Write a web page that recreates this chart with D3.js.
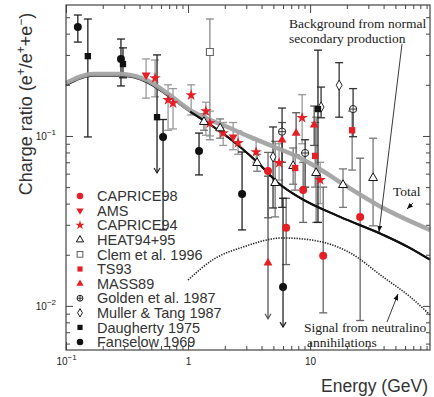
<!DOCTYPE html>
<html><head><meta charset="utf-8">
<script src="https://cdn.jsdelivr.net/npm/d3@7"></script>
<style>body{margin:0;background:#fff}svg{display:block}</style>
</head><body><svg id="c" width="434" height="397"></svg>
<script>
// ---------- data ----------
// points: [energy GeV, ratio, lowErr, highErr, arrowDown(1/0)]
const caprice98 = [[4.52,0.0622,0.033,0.08,0],[6.36,0.0288,0.0175,0.043,0],[8.77,0.0481,0.031,0.07,0],[12.8,0.0197,0.0091,0.05,0],[25.7,0.0334,0.0082,0.074,0]];
const ams = [[0.453,0.228,0.167,0.284,0],[2.34,0.0987,0.083,0.12,0]];
const caprice94 = [[0.537,0.219,0.17,0.28,0],[0.686,0.163,0.108,0.2,0],[0.753,0.156,0.11,0.19,0],[1.06,0.174,0.133,0.2,0],[1.40,0.140,0.101,0.158,0],[1.51,0.119,0.1,0.14,0],[1.94,0.104,0.088,0.12,0],[2.57,0.091,0.078,0.107,0],[3.61,0.0805,0.07,0.095,0],[5.57,0.0694,0.055,0.09,0],[8.60,0.128,0.09,0.175,0],[12.1,0.0551,0.04,0.07,0]];
const heat9495 = [[1.35,0.121,0.108,0.135,0],[1.83,0.111,0.097,0.126,0],[3.68,0.0694,0.062,0.078,0],[5.17,0.0529,0.0334,0.093,0],[7.26,0.0666,0.052,0.085,0],[11.2,0.0606,0.031,0.129,0],[18.6,0.0515,0.038,0.064,0],[32.8,0.0566,0.0296,0.097,0]];
const clem1996 = [[1.51,0.312,0.095,0.488,0]];
const ts93 = [[7.54,0.0648,0.048,0.077,0],[11.0,0.0763,0.05,0.12,0],[22.1,0.108,0.063,0.14,0]];
const mass89 = [[4.52,0.0179,0.0084,0.058,1],[5.89,0.0947,0.07,0.12,0],[7.68,0.104,0.077,0.137,0],[10.8,0.116,0.088,0.15,0]];
const golden1987 = [[5.89,0.106,0.038,0.146,0],[9.1,0.0794,0.05,0.095,0],[22.5,0.144,0.099,0.19,0]];
const muller1987 = [[4.97,0.0753,0.0377,0.113,0],[12.3,0.148,0.128,0.194,0],[17.3,0.199,0.129,0.27,0]];
const daugherty1975 = [[0.151,0.295,0.0987,0.488,0],[0.293,0.265,0.22,0.33,0],[0.557,0.129,0.0606,0.30,1],[11.6,0.144,0.031,0.32,0]];
const fanselow1969 = [[0.125,0.438,0.357,0.515,0],[0.282,0.284,0.197,0.372,0],[0.624,0.0987,0.028,0.125,0],[1.23,0.0816,0.059,0.104,0],[2.77,0.0456,0.028,0.0805,0],[6.0,0.0129,0.0075,0.043,1]];

// curves
const curveE      = [0.1,0.166,0.277,0.461,0.673,1.04,1.38,2.01,3.22,4.88,8.28,11.6,18.6,39.6,96];
const totalRatio  = [0.205,0.232,0.232,0.213,0.179,0.142,0.128,0.1145,0.0987,0.0873,0.0742,0.0648,0.0522,0.0377,0.028];
const bgE         = [0.1,0.166,0.277,0.461,0.673,1.04,1.38,2.01,3.75,5.47,8.28,17.6,39.6,66,96];
const bgRatio     = [0.199,0.226,0.226,0.207,0.174,0.139,0.122,0.1014,0.0694,0.0529,0.0432,0.0334,0.0262,0.0219,0.0187];
const sigE        = [1.0,1.6,2.82,6.0,10,21.3,39.6,66,96];
const sigRatio    = [0.0142,0.0187,0.0222,0.0251,0.0245,0.0205,0.0148,0.0113,0.00885];

const legendNames = ["CAPRICE98","AMS","CAPRICE94","HEAT94+95","Clem et al. 1996","TS93","MASS89","Golden et al. 1987","Muller & Tang 1987","Daugherty 1975","Fanselow 1969"];
const xMajor = [0.1,1,10];
const xMinor = [0.2,0.3,0.4,0.5,0.6,0.7,0.8,0.9,2,3,4,5,6,7,8,9,20,30,40,50,60,70,80,90];
const yMajor = [0.01,0.1];
const yMinor = [0.006,0.007,0.008,0.009,0.02,0.03,0.04,0.05,0.06,0.07,0.08,0.09,0.2,0.3,0.4,0.5];

// ---------- chart ----------
const RED = "#e41f26";
const svg = d3.select("#c");
const L=66,R=430,T=5,B=350;
const x = d3.scaleLog().domain([0.1,96]).range([L,R]);
const y = d3.scaleLog().domain([0.0055,0.59]).range([B,T]);

const series = [
  {name:"CAPRICE98", data:caprice98, sym:"circle", fill:RED, stroke:"none", err:"#666"},
  {name:"AMS", data:ams, sym:"tdown", fill:RED, stroke:"none", err:"#999"},
  {name:"CAPRICE94", data:caprice94, sym:"star", fill:RED, stroke:"none", err:"#999"},
  {name:"HEAT94+95", data:heat9495, sym:"triangle", fill:"#fff", stroke:"#111", err:"#777"},
  {name:"Clem", data:clem1996, sym:"square", fill:"#fff", stroke:"#666", err:"#888"},
  {name:"TS93", data:ts93, sym:"square", fill:RED, stroke:"none", err:"#777"},
  {name:"MASS89", data:mass89, sym:"triangle", fill:RED, stroke:"none", err:"#555"},
  {name:"Golden", data:golden1987, sym:"oplus", fill:"#fff", stroke:"#222", err:"#333"},
  {name:"Muller", data:muller1987, sym:"diamond", fill:"#fff", stroke:"#222", err:"#333"},
  {name:"Daugherty", data:daugherty1975, sym:"square", fill:"#111", stroke:"none", err:"#222"},
  {name:"Fanselow", data:fanselow1969, sym:"circle", fill:"#111", stroke:"none", err:"#222"}
];

function drawSym(g, s, cx, cy, k){
  k = k||1;
  const t = `translate(${cx},${cy})`;
  if(s.sym==="circle") g.append("circle").attr("cx",cx).attr("cy",cy).attr("r",4*k).attr("fill",s.fill);
  else if(s.sym==="square") g.append("path").attr("transform",t).attr("d",d3.symbol(d3.symbolSquare, (s.fill==="#fff"?48:40)*k*k)()).attr("fill",s.fill).attr("stroke",s.stroke).attr("stroke-width",1.1);
  else if(s.sym==="triangle") g.append("path").attr("transform",t).attr("d",d3.symbol(d3.symbolTriangle,34*k*k)()).attr("fill",s.fill).attr("stroke",s.stroke).attr("stroke-width",1);
  else if(s.sym==="tdown") g.append("path").attr("transform",t+" rotate(180)").attr("d",d3.symbol(d3.symbolTriangle,34*k*k)()).attr("fill",s.fill);
  else if(s.sym==="star") g.append("path").attr("transform",t).attr("d",d3.symbol(d3.symbolStar,40*k*k)()).attr("fill",s.fill);
  else if(s.sym==="diamond") g.append("path").attr("transform",t).attr("d",d3.symbol(d3.symbolDiamond,30*k*k)()).attr("fill",s.fill).attr("stroke",s.stroke).attr("stroke-width",1);
  else if(s.sym==="oplus"){
    g.append("circle").attr("cx",cx).attr("cy",cy).attr("r",3.6*k).attr("fill","#fff").attr("stroke",s.stroke).attr("stroke-width",1);
    g.append("path").attr("d",`M${cx-3.6*k},${cy}H${cx+3.6*k}M${cx},${cy-3.6*k}V${cy+3.6*k}`).attr("stroke",s.stroke).attr("stroke-width",0.9);
  }
}

// error bars
const eg = svg.append("g");
series.forEach(s=>{
  s.data.forEach(d=>{
    const cx=x(d[0]);
    eg.append("line").attr("x1",cx).attr("x2",cx).attr("y1",y(d[3])).attr("y2",y(d[2])).attr("stroke",s.err).attr("stroke-width",1.3);
    eg.append("line").attr("x1",cx-4).attr("x2",cx+4).attr("y1",y(d[3])).attr("y2",y(d[3])).attr("stroke",s.err).attr("stroke-width",1.3);
    if(d[4]){
      const yb=y(d[2]);
      eg.append("path").attr("d",`M${cx-3},${yb-5}L${cx},${yb}L${cx+3},${yb-5}`).attr("fill","none").attr("stroke",s.err).attr("stroke-width",1.2);
    } else {
      eg.append("line").attr("x1",cx-4).attr("x2",cx+4).attr("y1",y(d[2])).attr("y2",y(d[2])).attr("stroke",s.err).attr("stroke-width",1.3);
    }
  });
});

// curves
const line = d3.line().x(d=>x(d[0])).y(d=>y(d[1])).curve(d3.curveMonotoneX);
svg.append("path").attr("d",line(d3.zip(bgE,bgRatio))).attr("fill","none").attr("stroke","#111").attr("stroke-width",2);
svg.append("path").attr("d",line(d3.zip(curveE,totalRatio))).attr("fill","none").attr("stroke","#a3a3a3").attr("stroke-width",4.5).attr("stroke-opacity",0.95);
svg.append("path").attr("d",line(d3.zip(bgE,bgRatio).filter(d=>d[0]>=0.9))).attr("fill","none").attr("stroke","#111").attr("stroke-width",2);
svg.append("path").attr("d",line(d3.zip(sigE,sigRatio))).attr("fill","none").attr("stroke","#222").attr("stroke-width",1.6).attr("stroke-dasharray","1.3,1.3");

// markers
const mg = svg.append("g");
series.forEach(s=> s.data.forEach(d=> drawSym(mg,s,x(d[0]),y(d[1]))));

// axes
function axisG(ax, tr){ const g=svg.append("g").attr("transform",tr).call(ax); g.select(".domain").remove(); g.selectAll("line").attr("stroke","#444"); return g; }
const bx = axisG(d3.axisBottom(x).tickValues(xMajor).tickSize(-8).tickPadding(8), `translate(0,${B})`);
axisG(d3.axisBottom(x).tickValues(xMinor).tickSize(-4).tickFormat(""), `translate(0,${B})`);
axisG(d3.axisTop(x).tickValues(xMajor).tickSize(-8).tickFormat(""), `translate(0,${T})`);
axisG(d3.axisTop(x).tickValues(xMinor).tickSize(-4).tickFormat(""), `translate(0,${T})`);
const ly = axisG(d3.axisLeft(y).tickValues(yMajor).tickSize(-7).tickPadding(10), `translate(${L},0)`);
axisG(d3.axisLeft(y).tickValues(yMinor).tickSize(-4).tickFormat(""), `translate(${L},0)`);
axisG(d3.axisRight(y).tickValues(yMajor).tickSize(-7).tickFormat(""), `translate(${R},0)`);
axisG(d3.axisRight(y).tickValues(yMinor).tickSize(-4).tickFormat(""), `translate(${R},0)`);

function powLabel(sel){
  sel.selectAll("text").each(function(d){
    const t=d3.select(this); const e=Math.round(Math.log10(d));
    t.text(null).attr("font-family","Liberation Sans, Arial, sans-serif").attr("font-size",10).attr("fill","#222");
    if(e===0){ t.append("tspan").text("1"); }
    else if(e===1){ t.append("tspan").text("10"); }
    else { t.append("tspan").text("10"); t.append("tspan").attr("dy",-5).attr("font-size",8).text("\u2212"+(-e)); }
  });
}
powLabel(bx); powLabel(ly);

svg.append("rect").attr("x",L).attr("y",T).attr("width",R-L).attr("height",B-T).attr("fill","none").attr("stroke","#444").attr("stroke-width",1.2);

// axis titles
const sans="Liberation Sans, Arial, sans-serif";
svg.append("text").attr("x",428).attr("y",392).attr("text-anchor","end").attr("font-family",sans).attr("font-size",17.5).attr("fill","#333").text("Energy (GeV)");
const yt = svg.append("text").attr("transform","translate(32,104) rotate(-90)").attr("text-anchor","middle").attr("font-family",sans).attr("font-size",18).attr("fill","#333");
yt.append("tspan").text("Charge ratio (e");
yt.append("tspan").attr("dy",-7).attr("font-size",12).text("+");
yt.append("tspan").attr("dy",7).text("/e");
yt.append("tspan").attr("dy",-7).attr("font-size",12).text("+");
yt.append("tspan").attr("dy",7).text("+e");
yt.append("tspan").attr("dy",-7).attr("font-size",12).text("\u2212");
yt.append("tspan").attr("dy",7).text(")");

// legend
const lg = svg.append("g");
legendNames.forEach((n,i)=>{
  const ly0 = 196 + i*14.6;
  drawSym(lg, series[i], 80, ly0, 0.82);
  lg.append("text").attr("x",97).attr("y",ly0+5.2).attr("font-family",sans).attr("font-size",14.5).attr("fill","#333").text(n);
});

// annotations
const serif="Liberation Serif, Times New Roman, serif";
function ann(tx,xx,yy){ svg.append("text").attr("x",xx).attr("y",yy).attr("font-family",serif).attr("font-size",13.5).attr("fill","#222").text(tx); }
ann("Background from normal",289,28);
ann("secondary production",289,43);
ann("Total",393,196);
ann("Signal from neutralino",304,332);
ann("annihilations",307,347);
svg.append("defs").append("marker").attr("id","ah").attr("viewBox","0 0 10 10").attr("refX",10).attr("refY",5).attr("markerWidth",7).attr("markerHeight",7).attr("orient","auto-start-reverse").append("path").attr("d","M0,1L10,5L0,9z").attr("fill","#111");
function arrow(x1,y1,x2,y2){ svg.append("line").attr("x1",x1).attr("y1",y1).attr("x2",x2).attr("y2",y2).attr("stroke","#222").attr("stroke-width",0.9).attr("marker-end","url(#ah)"); }
arrow(402,44,379,232);
arrow(413,203,407,209);
arrow(387,322,398,294);
</script></body></html>
